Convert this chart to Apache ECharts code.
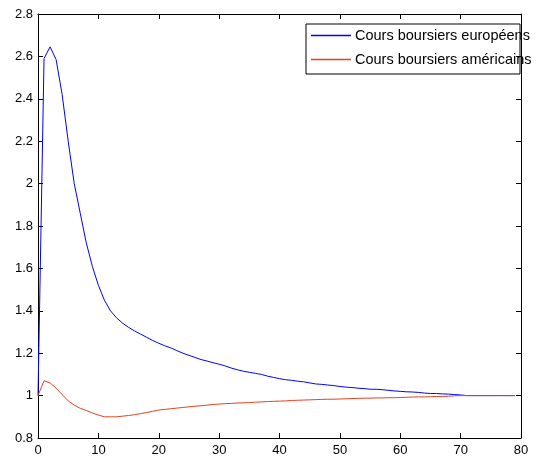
<!DOCTYPE html>
<html>
<head>
<meta charset="utf-8">
<script src="https://cdn.jsdelivr.net/npm/echarts@6/dist/echarts.min.js"></script>
<style>
html,body{margin:0;padding:0;background:#fff;}
#c{width:543px;height:463px;}
</style>
</head>
<body>
<div id="c"></div>
<script>
const seriesNames = ['Cours boursiers européens', 'Cours boursiers américains'];
const xTicks = [0, 10, 20, 30, 40, 50, 60, 70, 80];
const yTicks = [0.8, 1, 1.2, 1.4, 1.6, 1.8, 2, 2.2, 2.4, 2.6, 2.8];
const europe = [
  1.0, 2.59, 2.645, 2.585, 2.42, 2.2, 2.0, 1.86, 1.72, 1.61,
  1.52, 1.45, 1.40, 1.367, 1.342, 1.322, 1.305, 1.29, 1.275, 1.26,
  1.247, 1.235, 1.225, 1.212, 1.20, 1.19, 1.18, 1.17, 1.163, 1.155,
  1.148, 1.14, 1.13, 1.122, 1.115, 1.11, 1.105, 1.10, 1.092, 1.086,
  1.08, 1.075, 1.072, 1.068, 1.065, 1.06, 1.055, 1.053, 1.05, 1.047,
  1.043, 1.04, 1.038, 1.035, 1.033, 1.03, 1.03, 1.028, 1.025, 1.022,
  1.02, 1.018, 1.017, 1.015, 1.012, 1.01, 1.01, 1.008, 1.007, 1.005,
  1.003, 1.0, 1.0, 1.0, 1.0, 1.0, 1.0, 1.0, 1.0, 1.0
];
const america = [
  1.0, 1.07, 1.06, 1.035, 1.005, 0.975, 0.955, 0.94, 0.93, 0.918,
  0.908, 0.90, 0.90, 0.90, 0.903, 0.906, 0.91, 0.915, 0.92, 0.926,
  0.932, 0.935, 0.938, 0.941, 0.944, 0.947, 0.95, 0.952, 0.955, 0.958,
  0.96, 0.962, 0.963, 0.965, 0.966, 0.967, 0.969, 0.97, 0.972, 0.973,
  0.974, 0.975, 0.977, 0.978, 0.979, 0.98, 0.981, 0.982, 0.983, 0.983,
  0.984, 0.985, 0.986, 0.987, 0.988, 0.988, 0.989, 0.989, 0.99, 0.99,
  0.991, 0.992, 0.993, 0.994, 0.994, 0.995, 0.996, 0.996, 0.997, 0.999,
  1.0, 1.0, 1.0, 1.0, 1.0, 1.0, 1.0, 1.0, 1.0, 1.0
];
const colors = ['#0000ff', '#e4431c'];

const chart = echarts.init(document.getElementById('c'), null, {renderer: 'canvas'});
const font = 'Liberation Sans, Arial, Helvetica, sans-serif';
const tickStyle = {show: true, inside: true, length: 5, lineStyle: {color: '#000', width: 1}};
const lineStyle = {show: true, lineStyle: {color: '#000', width: 1}};
const xAx = (pos, show) => ({
  type: 'value', position: pos, min: xTicks[0], max: xTicks[xTicks.length - 1],
  interval: xTicks[1] - xTicks[0],
  axisLine: Object.assign({onZero: false}, lineStyle), axisTick: tickStyle, splitLine: {show: false},
  axisLabel: {show: show, color: '#000', fontSize: 13, fontFamily: font, margin: 6}
});
const yAx = (pos, show) => ({
  type: 'value', position: pos, min: yTicks[0], max: yTicks[yTicks.length - 1],
  interval: 0.2,
  axisLine: Object.assign({onZero: false}, lineStyle), axisTick: tickStyle, splitLine: {show: false},
  axisLabel: {show: show, color: '#000', fontSize: 13, fontFamily: font, margin: 5,
    formatter: v => String(+v.toFixed(1))}
});
chart.setOption({
  animation: false,
  backgroundColor: '#fff',
  grid: {left: 38, right: 22, top: 14, bottom: 25, containLabel: false},
  xAxis: [xAx('bottom', true), xAx('top', false)],
  yAxis: [yAx('left', true), yAx('right', false)],
  legend: {
    orient: 'vertical', left: 311, top: 28,
    itemWidth: 40, itemHeight: 1.4, itemGap: 9, icon: 'rect',
    padding: 0,
    textStyle: {color: '#000', fontSize: 14.5, lineHeight: 15, fontFamily: font, padding: [0, 0, 0, -1]},
    data: seriesNames.map((n, i) => ({name: n, icon: 'rect',
      itemStyle: {color: colors[i], borderWidth: 0}}))
  },
  graphic: [{
    type: 'rect', left: 303.5, top: 21.5, z: 10,
    shape: {width: 214, height: 50},
    style: {fill: 'none', stroke: '#000', lineWidth: 1}
  }],
  series: [
    {name: seriesNames[0], type: 'line', data: europe.map((v, i) => [i, v]), showSymbol: false,
     lineStyle: {color: colors[0], width: 1}, itemStyle: {color: colors[0]}},
    {name: seriesNames[1], type: 'line', data: america.map((v, i) => [i, v]), showSymbol: false,
     lineStyle: {color: colors[1], width: 1}, itemStyle: {color: colors[1]}}
  ]
});
</script>
</body>
</html>
